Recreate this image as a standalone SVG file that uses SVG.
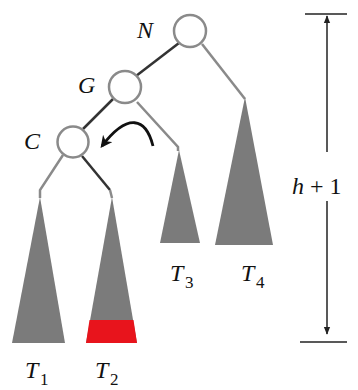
<svg xmlns="http://www.w3.org/2000/svg" width="358" height="390" viewBox="0 0 358 390">
<defs>
<style>
.node{fill:#fff;stroke:#8a8a8a;stroke-width:2.5}
.gray{stroke:#8a8a8a;stroke-width:2.5;fill:none}
.dark{stroke:#333;stroke-width:2.5;fill:none}
.tri{fill:#7b7b7b}
.lbl{font-family:"Liberation Serif",serif;font-style:italic;font-size:24px;fill:#111}
.sub{font-family:"Liberation Serif",serif;font-size:17px;fill:#111}
.dim{stroke:#222;stroke-width:1.5;fill:none}
</style>
<marker id="ah" viewBox="0 0 10 10" refX="9" refY="5" markerWidth="8" markerHeight="8" orient="auto-start-reverse" markerUnits="userSpaceOnUse"><path d="M0,1 L10,5 L0,9 z" fill="#222"/></marker>
<marker id="cah" viewBox="0 0 10 10" refX="8" refY="5" markerWidth="12" markerHeight="12" orient="auto" markerUnits="userSpaceOnUse"><path d="M0,0 L10,5 L0,10 L3,5 z" fill="#111"/></marker>
</defs>
<g id="connectors">
<line class="dark" x1="179" y1="43" x2="136" y2="76"/>
<line class="dark" x1="113" y1="99" x2="83" y2="129"/>
<polyline class="gray" points="202,44 245,99"/>
<polyline class="gray" points="137,102 178,147 178,151"/>
<polyline class="gray" points="63,155 40,190 40,198"/>
<polyline class="dark" points="82,156 110,190"/>
<line class="gray" x1="110" y1="190" x2="112" y2="198"/>
<path d="M153,146 C146,118 128,112 102,146" stroke="#111" stroke-width="2.8" fill="none" marker-end="url(#cah)"/>
</g>
<g id="N"><circle class="node" cx="190" cy="31" r="16"/><text class="lbl" x="137" y="38">N</text></g>
<g id="G"><circle class="node" cx="125" cy="87" r="16"/><text class="lbl" x="78" y="93">G</text></g>
<g id="C"><circle class="node" cx="73" cy="142" r="15.5"/><text class="lbl" x="24" y="149">C</text></g>
<g id="T1"><polygon class="tri" points="40,197 65,343 12,343"/><text class="lbl" x="25" y="378">T</text><text class="sub" x="40" y="385">1</text></g>
<g id="T2"><polygon class="tri" points="112,197 137,343 86,343"/><polygon points="89.5,320 133.5,320 137,343 86,343" fill="#e8141c"/><text class="lbl" x="95" y="378">T</text><text class="sub" x="110" y="385">2</text></g>
<g id="T3"><polygon class="tri" points="179,150 200,243 160,243"/><text class="lbl" x="170" y="281">T</text><text class="sub" x="185" y="288">3</text></g>
<g id="T4"><polygon class="tri" points="245,97 273,245 215,245"/><text class="lbl" x="241" y="281">T</text><text class="sub" x="256" y="288">4</text></g>
<g id="height">
<line class="dim" x1="305" y1="14" x2="347" y2="14"/>
<line class="dim" x1="300" y1="342" x2="347" y2="342"/>
<line class="dim" x1="327" y1="152" x2="327" y2="16" marker-end="url(#ah)"/>
<line class="dim" x1="327" y1="201" x2="327" y2="334" marker-end="url(#ah)"/>
<text x="292" y="194" font-family="Liberation Serif,serif" font-size="24" fill="#111"><tspan font-style="italic">h</tspan> + 1</text>
</g>
</svg>
